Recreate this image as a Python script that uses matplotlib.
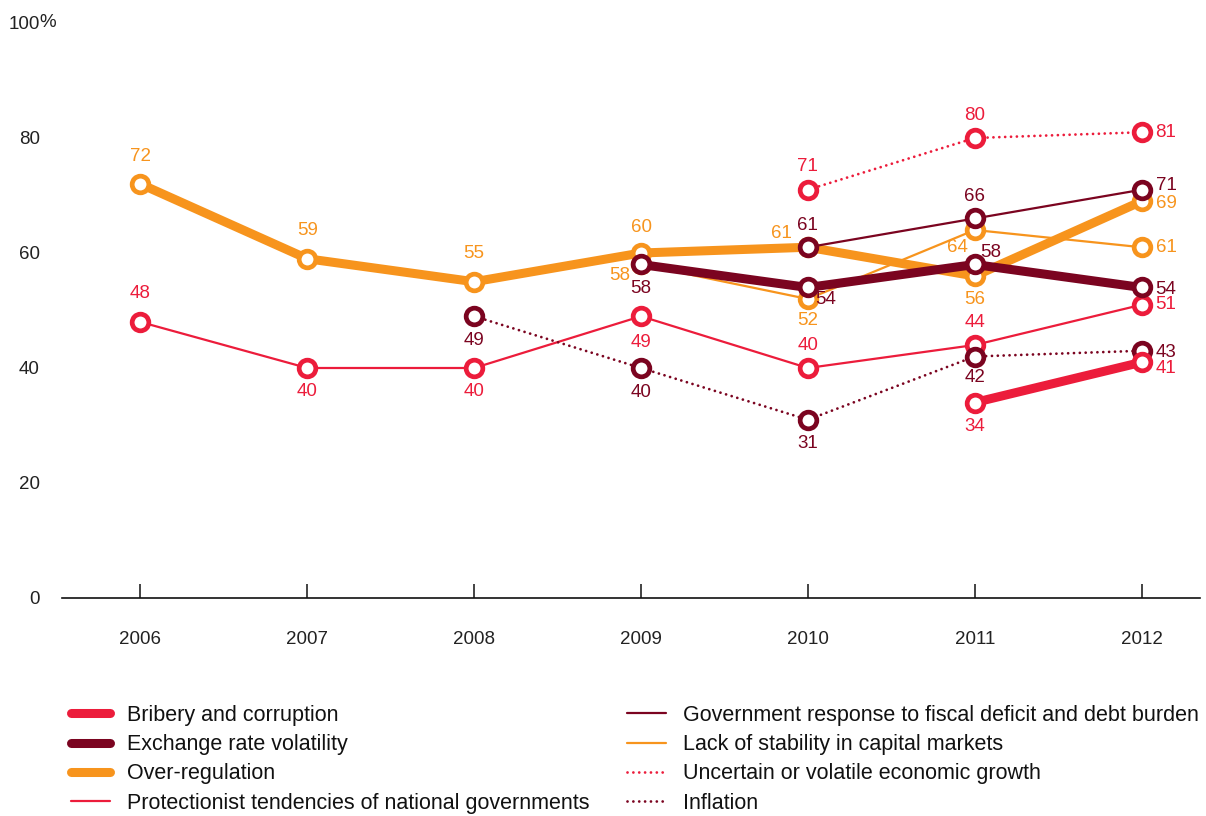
import matplotlib.pyplot as plt

plt.rcParams['font.family'] = ['Liberation Sans', 'DejaVu Sans']

years = [2006, 2007, 2008, 2009, 2010, 2011, 2012]

# survey results (% of respondents), None where the concern was not asked
bribery = [None, None, None, None, None, 34, 41]
exchange_rate = [None, None, None, 58, 54, 58, 54]
over_regulation = [72, 59, 55, 60, 61, 56, 69]
protectionism = [48, 40, 40, 49, 40, 44, 51]
fiscal_deficit = [None, None, None, None, 61, 66, 71]
capital_markets = [None, None, None, 58, 52, 64, 61]
econ_growth = [None, None, None, None, 71, 80, 81]
inflation = [None, None, 49, 40, 31, 42, 43]

names = ["Bribery and corruption",
         "Exchange rate volatility",
         "Over-regulation",
         "Protectionist tendencies of national governments",
         "Government response to fiscal deficit and debt burden",
         "Lack of stability in capital markets",
         "Uncertain or volatile economic growth",
         "Inflation"]

RED = "#ec1c3b"
MAROON = "#7b0420"
ORANGE = "#f7941d"
DOT = (0, (0.01, 2.1))

# value label placement: (dx, dy) in pixels from the marker, plus alignment
A = (0, 25, "center")
B = (0, -24, "center")
R = (14, 0, "left")

series = [
    # values, colour, width, style, zorder, label placement
    (bribery, RED, 6.5, "-", 6, [None] * 5 + [B, (14, -6, "left")]),
    (exchange_rate, MAROON, 6.5, "-", 7,
     [None] * 3 + [B, (7, -12, "left"), (5, 12, "left"), (14, -2, "left")]),
    (over_regulation, ORANGE, 6.5, "-", 3,
     [(0, 27, "center"), (0, 28, "center"), (0, 28, "center"), A,
      (-16, 14, "right"), B, (14, -2, "left")]),
    (protectionism, RED, 1.6, "-", 4,
     [(0, 28, "center"), B, B, (0, -26, "center"), (0, 22, "center"),
      (0, 22, "center"), R]),
    (fiscal_deficit, MAROON, 1.6, "-", 8,
     [None] * 4 + [(0, 22, "center"), (0, 22, "center"), (14, 4, "left")]),
    (capital_markets, ORANGE, 1.6, "-", 2,
     [None] * 3 + [(-11, -11, "right"), (0, -22, "center"),
                   (-7, -18, "right"), R]),
    (econ_growth, RED, 2.0, DOT, 4,
     [None] * 4 + [(0, 23, "center"), (0, 22, "center"), R]),
    (inflation, MAROON, 2.0, DOT, 5,
     [None] * 2 + [B, (0, -25, "center"), B, (0, -21, "center"), (14, -2, "left")]),
]

fig = plt.figure(figsize=(12.06, 8.16), dpi=100)
ax = fig.add_axes([62 / 1206, 1 - 598 / 816, (1200 - 62) / 1206, (598 - 23) / 816])

for name, (vals, color, lw, ls, z, places) in zip(names, series):
    xs = [y for y, v in zip(years, vals) if v is not None]
    ys = [v for v in vals if v is not None]
    ax.plot(xs, ys, color=color, lw=lw, ls=ls, zorder=z, label=name,
            solid_capstyle="round", dash_capstyle="round")
    ax.plot(xs, ys, "o", ms=12, mfc="white", mec=color, mew=3.4,
            zorder=z + 0.5, clip_on=False)
    for yr, v, pl in zip(years, vals, places):
        if v is None or pl is None:
            continue
        dx, dy, ha = pl
        ax.annotate(str(v), (yr, v), xytext=(dx, dy), textcoords="offset pixels",
                    ha=ha, va="center", fontsize=13.5, color=color, zorder=20)

ax.set_xlim(2005.53, 2012.35)
ax.set_ylim(0, 100)
ax.set_xticks(years)
ax.set_xticklabels([str(y) for y in years])
ax.set_yticks([0, 20, 40, 60, 80, 100])
ax.set_yticklabels(["0", "20", "40", "60", "80", "100"])
# percent sign hangs to the right of the top label
ax.annotate("%", (0, 100), xycoords=("axes fraction", "data"), xytext=(-23, 0),
            textcoords="offset pixels", ha="left", va="center", fontsize=13.5,
            color="#222222", annotation_clip=False)

for side in ["top", "right", "left"]:
    ax.spines[side].set_visible(False)
ax.spines["bottom"].set_linewidth(1.2)
ax.spines["bottom"].set_color("#111111")
ax.tick_params(axis="x", direction="in", length=10, width=1.1, color="#111111",
               pad=24, labelsize=13.5, labelcolor="#222222")
ax.tick_params(axis="y", length=0, pad=16, labelsize=13.5, labelcolor="#222222")

fig.legend(loc="upper left", bbox_to_anchor=(71 / 1206, 1 - 705 / 816),
           bbox_transform=fig.transFigure, ncol=2, frameon=False,
           fontsize=15.5, handlelength=1.8, handletextpad=0.8,
           columnspacing=1.75, labelspacing=0.38, borderpad=0,
           borderaxespad=0, labelcolor="#111111")

fig.savefig("out.png", dpi=100)
